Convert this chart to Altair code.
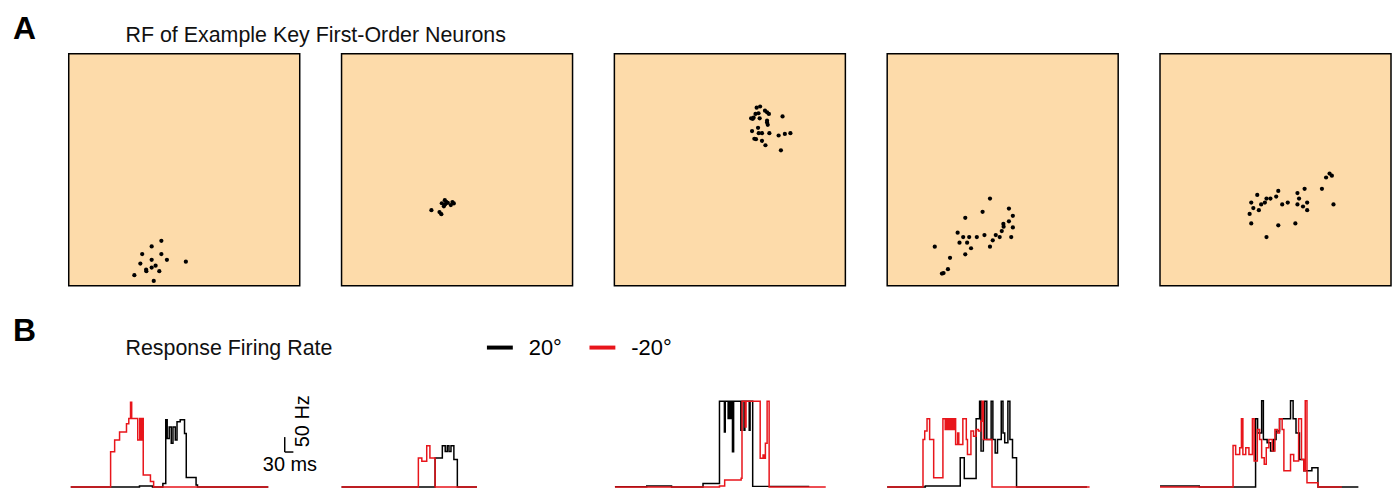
import altair as alt
import pandas as pd

FONT = "Liberation Sans"
PEACH = "#FDDBAA"
RED = "#E8151B"
BLACK = "#000000"

# ---------------- text ----------------
PANEL_LABELS = ["A", "B"]
TITLE_TOP = "RF of Example Key First-Order Neurons"
TITLE_BOTTOM = "Response Firing Rate"
CONDITIONS = ["20°", "-20°"]
SCALE_TEXT = ["50 Hz", "30 ms"]

# ---------------- receptive-field dots (arbitrary units 0-100) ----------------
rf1_x = [40.1, 35.9, 31.8, 40.1, 35.9, 42.5, 50.7, 31.0, 37.6, 35.9, 33.5, 33.6, 39.2, 28.4, 36.8]
rf1_y = [19.4, 17.0, 13.7, 13.7, 11.2, 11.2, 10.4, 9.6, 8.7, 7.9, 7.0, 6.3, 6.3, 4.6, 2.1]

rf2_x = [38.9, 42.4, 43.2, 43.4, 44.7, 44.8, 44.3, 46.0, 48.0, 48.6, 47.3, 45.3]
rf2_y = [32.6, 31.8, 30.9, 35.6, 36.9, 35.1, 34.3, 35.8, 36.1, 35.5, 34.8, 36.2]

rf3_x = [61.6, 63.1, 61.1, 62.4, 59.2, 60.3, 59.9, 62.9, 65.2, 66.1, 66.9, 66.1, 66.1, 66.4,
         72.8, 59.6, 62.2, 62.5, 63.9, 67.1, 71.1, 73.8, 76.2, 60.6, 61.3, 63.9, 65.4, 72.1]
rf3_y = [76.8, 77.3, 74.1, 74.4, 72.2, 72.5, 72.0, 72.2, 75.5, 74.8, 74.1, 71.2, 70.4, 69.4,
         73.0, 66.7, 68.1, 65.8, 65.8, 65.8, 64.8, 65.5, 65.8, 63.4, 63.2, 62.5, 60.6, 58.4]

rf4_x = [44.5, 52.7, 41.3, 54.4, 33.8, 52.7, 50.3, 50.4, 54.4, 49.6, 30.5, 32.9, 35.5, 38.8, 42.1,
         47.0, 48.7, 45.7, 53.7, 31.3, 34.6, 44.5, 36.3, 20.6, 33.8, 27.2, 26.3, 24.4, 23.7]
rf4_y = [37.6, 33.3, 31.9, 30.2, 29.3, 27.8, 26.7, 25.5, 25.2, 23.6, 22.9, 21.0, 21.0, 21.0, 21.9,
         21.9, 21.0, 19.6, 21.0, 18.6, 18.6, 16.9, 16.2, 16.9, 13.6, 12.1, 7.2, 5.5, 5.3]

rf5_x = [73.4, 74.4, 71.9, 70.1, 62.6, 51.2, 59.5, 42.1, 50.3, 47.8, 46.1, 60.2, 39.5, 45.4, 43.8,
         55.3, 52.9, 59.5, 63.7, 61.9, 40.4, 42.8, 63.7, 75.1, 38.8, 39.5, 51.2, 58.6, 46.1]
rf5_y = [48.4, 47.5, 46.7, 41.8, 41.8, 40.9, 40.0, 39.2, 38.5, 37.6, 37.6, 37.6, 35.9, 35.9, 35.1,
         35.9, 35.1, 35.1, 35.9, 34.2, 33.5, 32.6, 32.6, 35.1, 31.0, 26.9, 26.1, 26.9, 21.0]

# ---------------- firing-rate traces (time ms, rate Hz; step-after) ----------------
t_blk_1 = [7, 245, 290, 326, 336, 341, 348, 355, 361, 369, 375, 386, 401, 407, 441, 446, 691]
r_blk_1 = [0, 3, 0, 12, 225, 162, 201, 146, 201, 157, 218, 225, 179, 32, 7, 0, 0]
t_red_1 = [7, 145, 159, 176, 200, 208, 214, 218, 239, 246, 251, 253, 258, 283, 294, 691]
r_red_1 = [0, 118, 157, 184, 212, 229, 284, 229, 157, 229, 157, 229, 40, 18, 0, 0]

t_blk_2 = [0, 324, 349, 359, 366, 372, 379, 389, 401, 469]
r_blk_2 = [0, 97, 138, 119, 138, 119, 138, 92, 0, 0]
t_red_2 = [0, 266, 278, 295, 306, 324, 469]
r_red_2 = [0, 97, 86, 138, 97, 0, 0]

t_blk_3 = [2, 112, 198, 307, 364, 381, 384, 394, 397, 401, 404, 409, 413, 438, 441, 449, 452, 467, 470, 479, 675]
r_blk_3 = [1, 3, 0, 12, 287, 184, 287, 229, 287, 229, 287, 118, 287, 190, 287, 190, 287, 190, 287, 2, 2]
t_red_3 = [2, 364, 382, 439, 442, 453, 456, 505, 515, 520, 523, 529, 536, 732]
r_red_3 = [0, 3, 23, 29, 287, 201, 287, 96, 107, 96, 146, 287, 0, 0]

t_blk_4 = [0, 132, 253, 267, 308, 320, 325, 333, 338, 345, 360, 366, 374, 382, 395, 401, 407, 418, 425, 434, 448, 692]
r_blk_4 = [0, 3, 98, 28, 228, 287, 120, 159, 287, 159, 287, 159, 114, 159, 287, 181, 148, 287, 159, 98, 0, 0]
t_red_4 = [0, 124, 130, 138, 147, 161, 193, 201, 205, 209, 214, 218, 223, 228, 232, 237, 244, 248, 262,
           274, 278, 290, 299, 308, 316, 324, 329, 333, 363, 701]
r_red_4 = [0, 159, 187, 228, 159, 31, 228, 192, 228, 192, 228, 192, 228, 192, 228, 142, 181, 142, 228,
           159, 109, 187, 170, 192, 187, 220, 287, 159, 0, 0]

t_blk_5 = [0, 136, 331, 338, 352, 358, 371, 383, 394, 402, 414, 452, 461, 471, 483, 498, 526, 547, 687]
r_blk_5 = [3, 0, 228, 181, 289, 159, 148, 120, 159, 187, 228, 289, 228, 181, 92, 54, 64, 0, 0]
t_red_5 = [0, 253, 262, 276, 282, 287, 297, 308, 320, 326, 337, 345, 352, 361, 368, 377, 389, 398, 407,
           414, 423, 429, 452, 463, 480, 490, 498, 503, 509, 547, 630]
r_red_5 = [0, 139, 109, 131, 228, 109, 131, 109, 228, 87, 192, 159, 98, 76, 131, 159, 120, 192, 181,
           228, 192, 54, 109, 87, 228, 92, 54, 289, 14, 0, 0]

# scale bar (data units of the first trace panel)
SCALE_T0, SCALE_R0, SCALE_DT, SCALE_DR = 748, 117, 30, 50
SCALE_LABEL_T = [810, 766]
SCALE_LABEL_R = [220, 73]

# ---------------- layout ----------------
PW, PH = 232, 233      # RF panel size
TW, TH = 232, 90       # trace panel size
T_DOMAIN = [0, 800]
R_DOMAIN = [0, 300]

rf_x = [rf1_x, rf2_x, rf3_x, rf4_x, rf5_x]
rf_y = [rf1_y, rf2_y, rf3_y, rf4_y, rf5_y]
traces = [
    (t_blk_1, r_blk_1, t_red_1, r_red_1),
    (t_blk_2, r_blk_2, t_red_2, r_red_2),
    (t_blk_3, r_blk_3, t_red_3, r_red_3),
    (t_blk_4, r_blk_4, t_red_4, r_red_4),
    (t_blk_5, r_blk_5, t_red_5, r_red_5),
]


def rf_panel(i):
    df = pd.DataFrame({"x": rf_x[i], "y": rf_y[i]})
    pts = alt.Chart(df).mark_circle(size=18, color=BLACK, opacity=1).encode(
        x=alt.X("x:Q", scale=alt.Scale(domain=[0, 100], nice=False, zero=False), axis=None),
        y=alt.Y("y:Q", scale=alt.Scale(domain=[0, 100], nice=False, zero=False), axis=None),
    )
    layers = [pts]
    if i == 0:
        lab = alt.Chart(pd.DataFrame({"s": [PANEL_LABELS[0]]})).mark_text(
            align="left", baseline="alphabetic", fontSize=32, fontWeight="bold", font=FONT, color=BLACK
        ).encode(text="s:N", x=alt.value(-56), y=alt.value(-15))
        ttl = alt.Chart(pd.DataFrame({"s": [TITLE_TOP]})).mark_text(
            align="left", baseline="alphabetic", fontSize=21.5, font=FONT, color="#111111"
        ).encode(text="s:N", x=alt.value(57), y=alt.value(-12))
        layers += [lab, ttl]
    return alt.layer(*layers).properties(
        width=PW, height=PH,
        view=alt.ViewBackground(fill=PEACH, stroke=BLACK, strokeWidth=1.5),
    )


color = alt.Color(
    "cond:N",
    scale=alt.Scale(domain=CONDITIONS, range=[BLACK, RED]),
    legend=alt.Legend(
        orient="none", legendX=418, legendY=280, direction="horizontal", title=None,
        symbolType="stroke", symbolStrokeWidth=4, symbolSize=676, symbolOpacity=1,
        labelFontSize=22, labelFont=FONT, labelColor=BLACK, labelOffset=14, columnPadding=19,
    ),
)


def trace_panel(i):
    tb, rb, tr, rr = traces[i]
    dfb = pd.DataFrame({"t": tb, "rate": rb, "cond": CONDITIONS[0]})
    dfr = pd.DataFrame({"t": tr, "rate": rr, "cond": CONDITIONS[1]})
    xs = alt.Scale(domain=T_DOMAIN, nice=False, zero=False)
    ys = alt.Scale(domain=R_DOMAIN, nice=False, zero=False)
    enc = dict(
        x=alt.X("t:Q", scale=xs, axis=None),
        y=alt.Y("rate:Q", scale=ys, axis=None),
        color=color,
    )
    blk = alt.Chart(dfb).mark_line(interpolate="step-after", strokeWidth=1.5).encode(**enc)
    red = alt.Chart(dfr).mark_line(interpolate="step-after", strokeWidth=1.5).encode(**enc)
    layers = [blk, red]
    if i == 0:
        bar = pd.DataFrame({
            "t": [SCALE_T0, SCALE_T0],
            "t2": [SCALE_T0, SCALE_T0 + SCALE_DT],
            "rate": [SCALE_R0, SCALE_R0],
            "rate2": [SCALE_R0 + SCALE_DR, SCALE_R0],
        })
        rule = alt.Chart(bar).mark_rule(color=BLACK, strokeWidth=1.5).encode(
            x=alt.X("t:Q", scale=xs, axis=None), x2="t2:Q",
            y=alt.Y("rate:Q", scale=ys, axis=None), y2="rate2:Q",
        )
        lab_v = alt.Chart(pd.DataFrame({"t": [SCALE_LABEL_T[0]], "rate": [SCALE_LABEL_R[0]], "s": [SCALE_TEXT[0]]})).mark_text(
            angle=270, align="center", baseline="middle", fontSize=20, font=FONT, color=BLACK
        ).encode(x=alt.X("t:Q", scale=xs, axis=None), y=alt.Y("rate:Q", scale=ys, axis=None), text="s:N")
        lab_h = alt.Chart(pd.DataFrame({"t": [SCALE_LABEL_T[1]], "rate": [SCALE_LABEL_R[1]], "s": [SCALE_TEXT[1]]})).mark_text(
            align="center", baseline="middle", fontSize=20, font=FONT, color=BLACK
        ).encode(x=alt.X("t:Q", scale=xs, axis=None), y=alt.Y("rate:Q", scale=ys, axis=None), text="s:N")
        lab = alt.Chart(pd.DataFrame({"s": [PANEL_LABELS[1]]})).mark_text(
            align="left", baseline="alphabetic", fontSize=32, fontWeight="bold", font=FONT, color=BLACK
        ).encode(text="s:N", x=alt.value(-56), y=alt.value(-57))
        ttl = alt.Chart(pd.DataFrame({"s": [TITLE_BOTTOM]})).mark_text(
            align="left", baseline="alphabetic", fontSize=21.5, font=FONT, color="#111111"
        ).encode(text="s:N", x=alt.value(57), y=alt.value(-43))
        layers += [rule, lab_v, lab_h, lab, ttl]
    return alt.layer(*layers).properties(
        width=TW, height=TH,
        view=alt.ViewBackground(strokeWidth=0, strokeOpacity=0),
    )


cells = [rf_panel(i) for i in range(5)] + [trace_panel(i) for i in range(5)]

chart = alt.concat(
    *cells, columns=5, spacing=alt.RowColnumber(row=112, column=42), bounds="flush"
).properties(
    padding={"left": 4, "top": 3, "right": 0, "bottom": 0}
).configure_view(strokeWidth=0).configure(font=FONT)

chart.save("out.html", embed_options={"renderer": "svg", "actions": False})
